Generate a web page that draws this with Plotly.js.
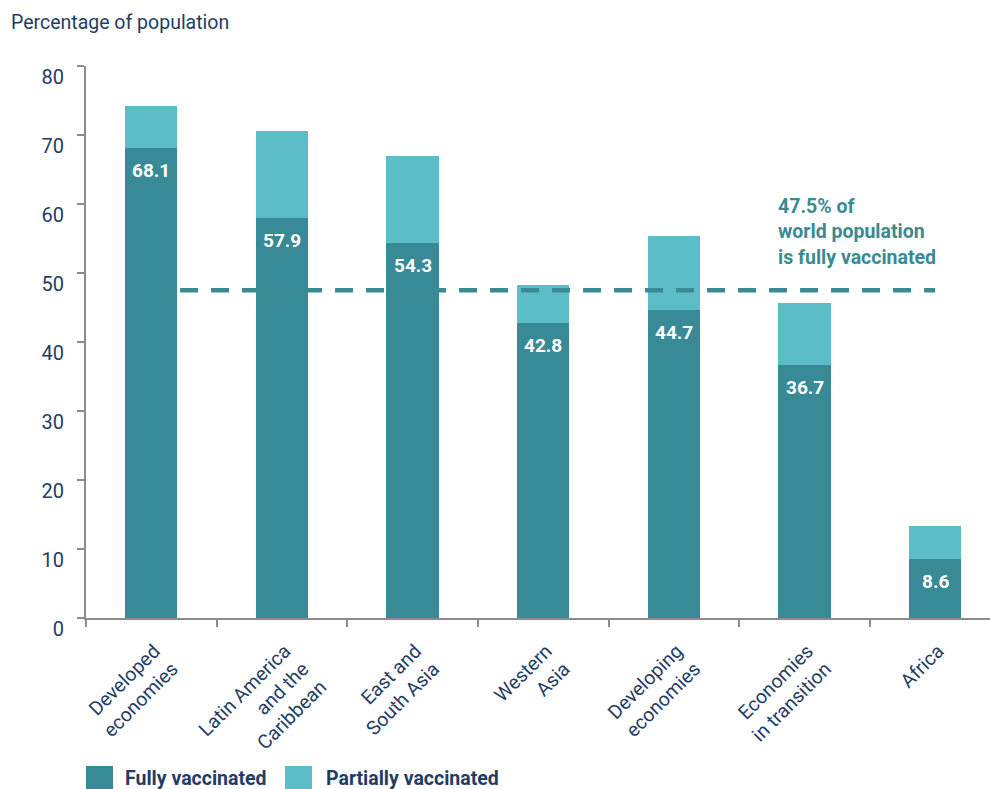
<!DOCTYPE html>
<html>
<head>
<meta charset="utf-8">
<script src="https://cdn.plot.ly/plotly-3.0.1.min.js"></script>
<style>html,body{margin:0;padding:0;background:#fff;}#chart{width:990px;height:789px;}</style>
</head>
<body>
<div id="chart"></div>
<script>
const categories = ["Developed<br>economies", "Latin America<br>and the<br>Caribbean", "East and<br>South Asia", "Western<br>Asia", "Developing<br>economies", "Economies<br>in transition", "Africa"];
const fullyVaccinated = [68.1, 57.9, 54.3, 42.8, 44.7, 36.7, 8.6];
const partiallyVaccinated = [6.1, 12.7, 12.7, 5.5, 10.7, 8.9, 4.7];
const seriesNames = ["Fully vaccinated", "Partially vaccinated"];
const worldFullyVaccinated = 47.5;
const yTicks = [0, 10, 20, 30, 40, 50, 60, 70, 80];

const W = 990, H = 789;
const M = {l: 86, r: 0, t: 66, b: 171};
const PW = W - M.l - M.r, PH = H - M.t - M.b;
const px = x => (x - M.l) / PW;
const py = y => (H - M.b - y) / PH;

const NAVY = "#1f3d66";
const DARK = "#378a96";
const LIGHT = "#5bbdc8";
const TEAL = "#3a8a94";
const FONT = "Roboto, 'Open Sans', sans-serif";

const traces = [
  {type: "bar", name: seriesNames[0], x: categories, y: fullyVaccinated, marker: {color: DARK}, width: 0.4, hoverinfo: "skip"},
  {type: "bar", name: seriesNames[1], x: categories, y: partiallyVaccinated, marker: {color: LIGHT}, width: 0.4, hoverinfo: "skip"}
];

const annotations = fullyVaccinated.map((v, i) => ({
  x: categories[i], y: v, xref: "x", yref: "y",
  text: v.toFixed(1), showarrow: false, yanchor: "top", yshift: -9,
  font: {family: FONT, size: 19, color: "#ffffff", weight: 700}
}));

annotations.push({
  xref: "paper", yref: "paper", x: px(776), y: py(193), xanchor: "left", yanchor: "top",
  align: "left", showarrow: false,
  text: worldFullyVaccinated + "% of<br>world population<br>is fully vaccinated",
  font: {family: FONT, size: 19.5, color: TEAL, weight: 700}
});

// legend labels
annotations.push({xref: "paper", yref: "paper", x: px(123), y: py(778), xanchor: "left", yanchor: "middle", showarrow: false,
  text: seriesNames[0], font: {family: FONT, size: 19.5, color: NAVY, weight: 700}});
annotations.push({xref: "paper", yref: "paper", x: px(324), y: py(778), xanchor: "left", yanchor: "middle", showarrow: false,
  text: seriesNames[1], font: {family: FONT, size: 19.5, color: NAVY, weight: 700}});

const shapes = [
  {type: "line", xref: "x", yref: "y", x0: 0.22, x1: 6.0, y0: worldFullyVaccinated, y1: worldFullyVaccinated,
   line: {color: TEAL, width: 4.5, dash: "18px,13px"}, layer: "above"},
  {type: "rect", xref: "paper", yref: "paper", x0: px(86), x1: px(113), y0: py(766), y1: py(793), fillcolor: DARK, line: {width: 0}},
  {type: "rect", xref: "paper", yref: "paper", x0: px(285), x1: px(312), y0: py(766), y1: py(793), fillcolor: LIGHT, line: {width: 0}}
];

const layout = {
  width: W, height: H,
  margin: M,
  paper_bgcolor: "#ffffff", plot_bgcolor: "#ffffff",
  barmode: "stack",
  showlegend: false,
  font: {family: FONT, color: NAVY},
  title: {text: "Percentage of population", xref: "container", yref: "container",
          x: 11 / W, xanchor: "left", y: 1 - 22 / H, yanchor: "middle",
          font: {family: FONT, size: 19.5, color: NAVY}},
  xaxis: {
    type: "category", range: [-0.5, 6.42], fixedrange: true,
    showline: true, linecolor: "#8c8c8c", linewidth: 2,
    ticks: "outside", tickson: "boundaries", ticklen: 7, tickwidth: 2, tickcolor: "#8c8c8c",
    tickangle: -45, tickfont: {family: FONT, size: 19.5, color: NAVY},
    ticklabelstandoff: 12, ticklabelshift: 3,
    showgrid: false, zeroline: false
  },
  yaxis: {
    range: [0, 80], tickvals: yTicks, ticktext: yTicks.map(String), fixedrange: true,
    showline: true, linecolor: "#8c8c8c", linewidth: 2,
    ticks: "outside", ticklen: 7, tickwidth: 1.5, tickcolor: "#8c8c8c",
    tickfont: {family: FONT, size: 20, color: NAVY},
    ticklabelshift: 11, ticklabelstandoff: 9,
    showgrid: false, zeroline: false
  },
  annotations: annotations,
  shapes: shapes
};

Plotly.newPlot("chart", traces, layout, {displayModeBar: false, staticPlot: true});
</script>
</body>
</html>
